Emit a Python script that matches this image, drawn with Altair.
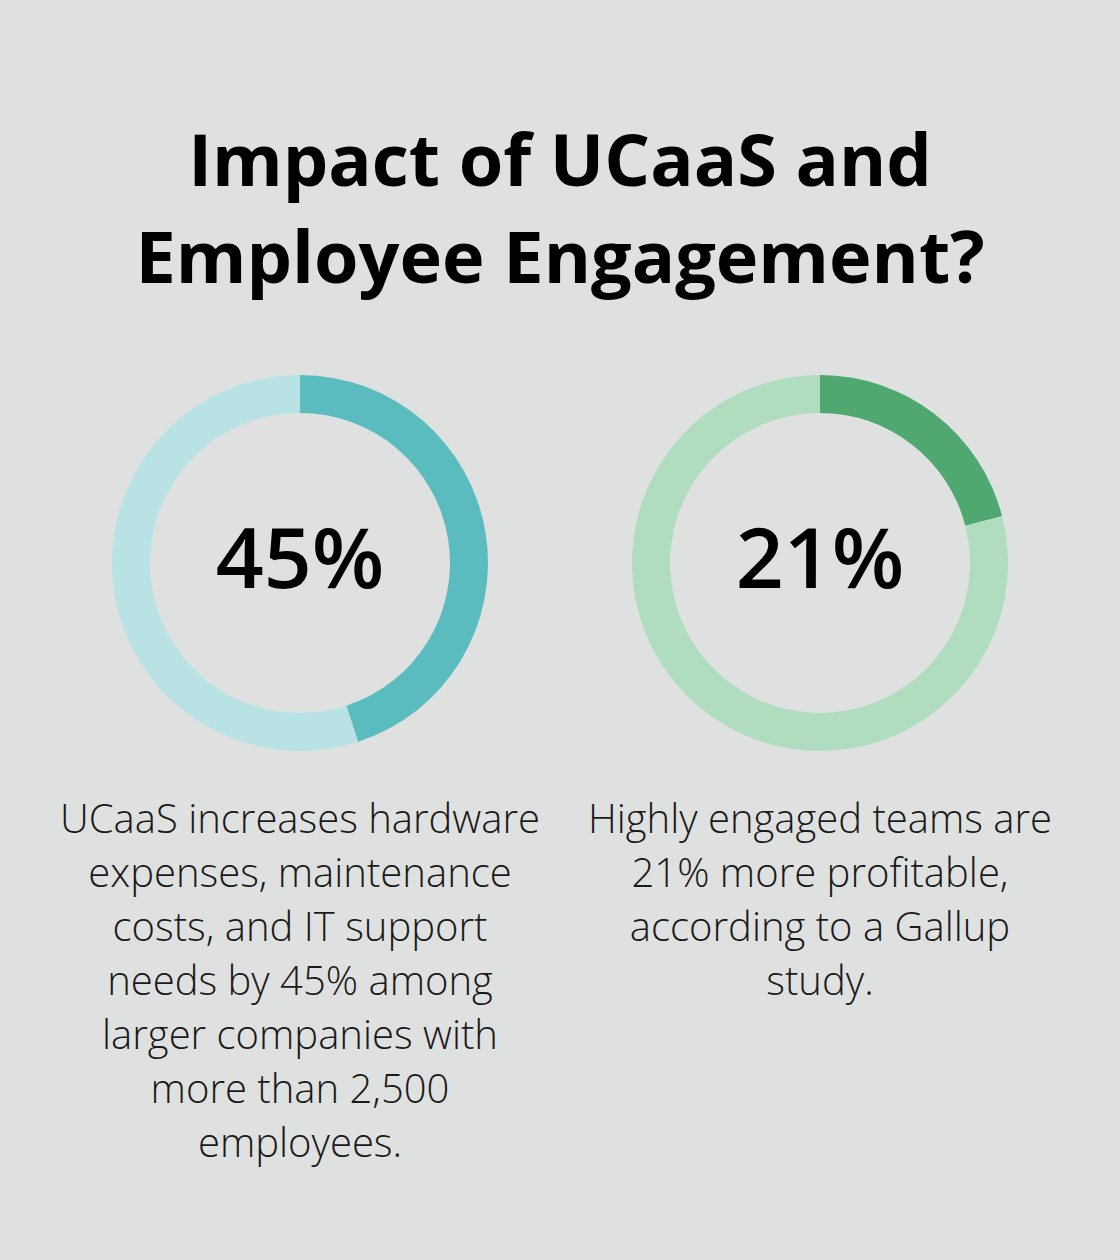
import altair as alt
import pandas as pd

metrics = ["UCaaS", "Engagement"]
values = [45, 21]
labels = ["45%", "21%"]
fill_colors = ["#5bbcbf", "#4ea870"]
rest_colors = ["#b8e2e4", "#b0dcc0"]
descriptions = [
    "UCaaS increases hardware\nexpenses, maintenance\ncosts, and IT support\nneeds by 45% among\nlarger companies with\nmore than 2,500\nemployees.",
    "Highly engaged teams are\n21% more profitable,\naccording to a Gallup\nstudy.",
]
title_lines = ["Impact of UCaaS and", "Employee Engagement?"]

BG = "#dfe1e0"
FONT = "Open Sans"

rows = []
for m, v in zip(metrics, values):
    rows.append({"metric": m, "part": m + "-fill", "order": 0, "value": v})
    rows.append({"metric": m, "part": m + "-rest", "order": 1, "value": 100 - v})
arc_df = pd.DataFrame(rows)

color_domain = []
color_range = []
for m, f, r in zip(metrics, fill_colors, rest_colors):
    color_domain += [m + "-fill", m + "-rest"]
    color_range += [f, r]

xscale = alt.Scale(type="point", domain=metrics, range=[300, 820], padding=0)

arcs = (
    alt.Chart(arc_df)
    .transform_stack(stack="value", groupby=["metric"], as_=["t0", "t1"], sort=[alt.SortField("order")])
    .mark_arc(outerRadius=188, innerRadius=150, strokeWidth=0)
    .encode(
        x=alt.X("metric:N", scale=xscale, axis=None),
        y=alt.value(563),
        theta=alt.Theta("t0:Q", scale=alt.Scale(domain=[0, 100], range=[0, 6.283185307179586])),
        theta2="t1:Q",
        color=alt.Color("part:N", scale=alt.Scale(domain=color_domain, range=color_range), legend=None),
    )
)

num_df = pd.DataFrame({"metric": metrics, "label": labels, "desc": descriptions})

nums = (
    alt.Chart(num_df)
    .mark_text(font=FONT, fontSize=84, fontWeight=600, color="#000000", baseline="alphabetic", align="center")
    .encode(x=alt.X("metric:N", scale=xscale, axis=None), y=alt.value(588), text="label:N")
)

descs = (
    alt.Chart(num_df)
    .mark_text(font=FONT, fontSize=40, fontWeight=300, color="#1a1a1a", baseline="alphabetic",
               align="center", lineBreak="\n", lineHeight=54)
    .encode(x=alt.X("metric:N", scale=xscale, axis=None), y=alt.value(833), text="desc:N")
)

title_df = pd.DataFrame({"t": ["\n".join(title_lines)]})
title = (
    alt.Chart(title_df)
    .mark_text(font=FONT, fontSize=72, fontWeight=700, color="#000000", baseline="alphabetic",
               align="center", lineBreak="\n", lineHeight=97)
    .encode(x=alt.value(560), y=alt.value(186), text="t:N")
)

chart = (
    alt.layer(arcs, nums, descs, title)
    .properties(width=1120, height=1260, background=BG, padding=0, autosize=alt.AutoSizeParams(type="none"))
    .configure_view(stroke=None, fill=BG)
)

chart.save("out.html", embed_options={"renderer": "svg", "actions": False})
